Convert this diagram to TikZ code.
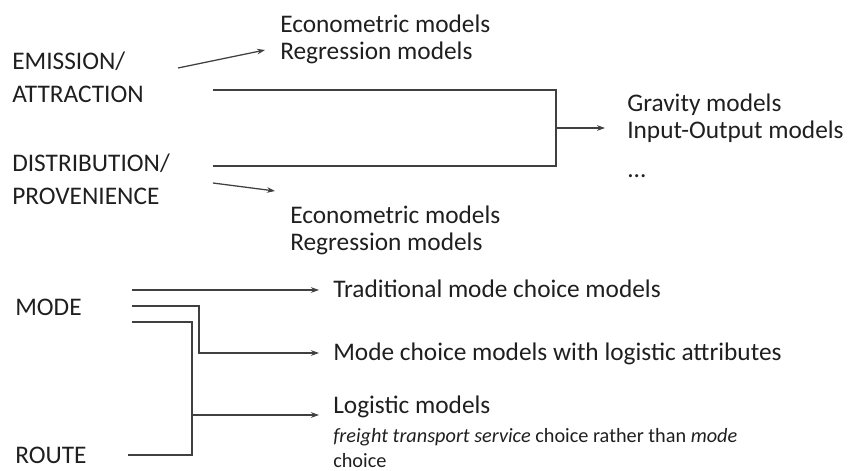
\documentclass[tikz,border=0pt]{standalone}
\usepackage{fontspec}
\setmainfont{Carlito}
\usetikzlibrary{arrows.meta,positioning}

\begin{document}
\begin{tikzpicture}[
    x=0.75pt, y=-0.75pt,
    >={Stealth[length=6pt,width=4.2pt]},
    every node/.style={inner sep=0pt, anchor=base west, text=black!88},
    lbl/.style={align=left, font=\fontsize{19}{24.75}\selectfont},
    mdl/.style={align=left, font=\fontsize{19}{20}\selectfont},
    note/.style={align=left, font=\fontsize{15.2}{18.75}\selectfont},
    link/.style={draw=black!75, line width=0.95pt}
  ]
  \useasboundingbox (0,0) rectangle (868,471);

  % Labels (base = last line)
  \node[lbl] (emis) at (12,102) {EMISSION/\\ATTRACTION};
  \node[lbl] (dist) at (12,204) {DISTRIBUTION/\\PROVENIENCE};
  \node[lbl] (mode) at (15,315) {MODE};
  \node[lbl] (route) at (15,463) {ROUTE};

  % Models
  \node[mdl] (econA) at (280,59) {Econometric models\\Regression models};
  \node[mdl] (econB) at (290,250) {Econometric models\\Regression models};
  \node[mdl] (grav) at (627,177) {Gravity models\\Input-Output models\\[9pt]...};
  \node[mdl] (trad) at (333,297) {Traditional mode choice models};
  \node[mdl] (attr) at (333,360) {Mode choice models with logistic attributes};
  \node[mdl] (logm) at (333,413) {Logistic models};
  \node[note] (logn) at (333,467) {\textit{freight transport service} choice rather than \textit{mode}\\choice};

  % Connector ends
  \coordinate (eaOut) at (178,68);
  \coordinate (eaIn) at (265,50);
  \coordinate (dpOut) at (213,183);
  \coordinate (dpIn) at (275,191);
  \coordinate (eaLine) at (213,90);
  \coordinate (dpLine) at (213,166);
  \coordinate (join) at (556,128);
  \coordinate (gravIn) at (605,128);
  \coordinate (modeA) at (132,290);
  \coordinate (modeB) at (132,306);
  \coordinate (modeC) at (132,322);
  \coordinate (routeA) at (128,455);
  \coordinate (kneeA) at (199,306);
  \coordinate (kneeB) at (192,322);
  \coordinate (tradIn) at (319,290);
  \coordinate (attrIn) at (319,353);
  \coordinate (logIn) at (319,415);

  % Connecting Arrows
  \draw[link,->] (eaOut) -- (eaIn);
  \draw[link,->] (dpOut) -- (dpIn);
  \draw[link] (eaLine) -| (join);
  \draw[link] (dpLine) -| (join);
  \draw[link,->] (join) -- (gravIn);
  \draw[link,->] (modeA) -- (tradIn);
  \draw[link,->] (modeB) -- (kneeA) |- (attrIn);
  \draw[link] (modeC) -- (kneeB) |- (routeA);
  \draw[link,->] (kneeB |- logIn) -- (logIn);

\end{tikzpicture}
\end{document}
